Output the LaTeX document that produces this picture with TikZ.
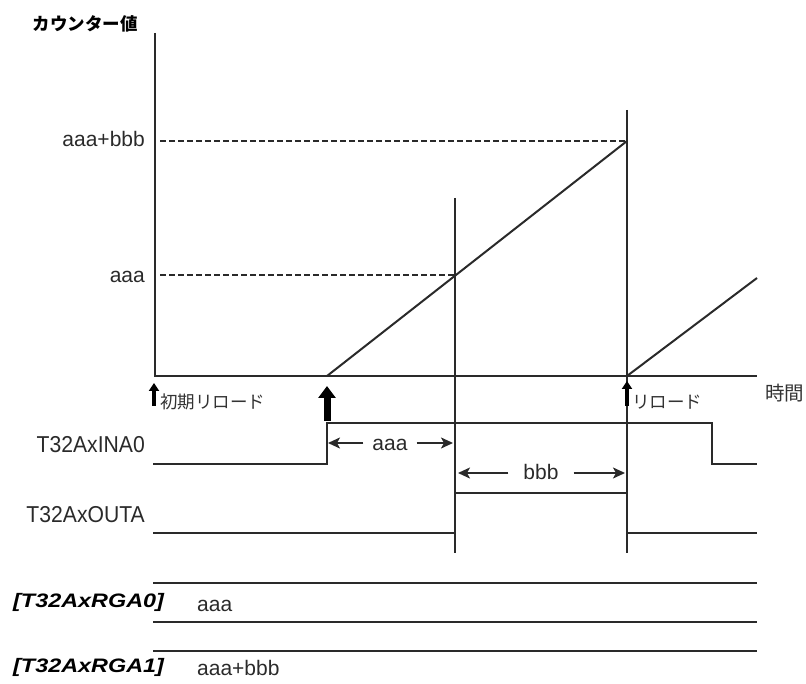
\documentclass[tikz,border=0pt]{standalone}
\usepackage{fontspec}
\setmainfont{Liberation Sans}
\newfontfamily\narrowf[FakeStretch=0.92]{Liberation Sans}
\newfontfamily\widef[FakeStretch=1.2]{Liberation Sans}
\newfontfamily\jpf{Noto Sans CJK JP}
\usetikzlibrary{arrows.meta}
\definecolor{ink}{HTML}{2A2A2A}
\begin{document}
\begin{tikzpicture}[x=1pt,y=-1pt,
  ln/.style={draw=ink,line width=2pt},
  axisline/.style={draw=ink,line width=2.3pt},
  dashline/.style={draw=ink,line width=1.7pt,dash pattern=on 6pt off 3pt},
  lowtxt/.style={font=\fontsize{21}{21}\selectfont,text=ink,inner sep=0pt},
  captxt/.style={font=\narrowf\fontsize{23}{23}\selectfont,text=ink,inner sep=0pt},
  regtxt/.style={font=\widef\bfseries\itshape\fontsize{19.5}{20}\selectfont,text=black,inner sep=0pt},
  jptxt/.style={font=\jpf\fontsize{17.5}{18}\selectfont,text=black!80,inner sep=0pt},
  dimarr/.style={draw=ink,line width=1.8pt,-{Stealth[length=12pt,width=11pt,inset=3pt]}},
  bigarr/.style={draw=black,line width=7pt,-{Triangle[length=12pt,width=17pt]}},
  smallarr/.style={draw=black,line width=3.5pt,-{Triangle[length=8pt,width=10pt]}}]
\useasboundingbox (0,0) rectangle (806,684);

% axes
\coordinate (O) at (155,376);
\coordinate (Ytop) at (155,33);
\coordinate (Xend) at (757,376);
\draw[axisline] (Ytop) -- (O) -- (Xend);

% level labels
\node[lowtxt,anchor=base east] (lab2) at (145,147) {aaa+bbb};
\node[lowtxt,anchor=base east] (lab1) at (145,283) {aaa};
\node[font=\jpf\bfseries\fontsize{17.5}{18}\selectfont,inner sep=0pt] (ylab) at (85,24) {カウンター値};
\node[font=\jpf\fontsize{19.5}{20}\selectfont,text=black!80,inner sep=0pt,anchor=west] (xlab) at (765,393) {時間};

% ramp points
\coordinate (R0) at (327,376);
\coordinate (Rm) at (455,275);
\coordinate (R1) at (627,141);
\coordinate (R2) at (627,376);
\coordinate (R3) at (757,278);
\draw[dashline] (160,141) -- (R1);
\draw[dashline] (160,275) -- (Rm);
\draw[ln] (R0) -- (R1);
\draw[ln] (R2) -- (R3);

% vertical lines
\coordinate (V1t) at (455,198);
\coordinate (V1b) at (455,553);
\coordinate (V2t) at (627,110);
\coordinate (V2b) at (627,553);
\draw[ln] (V1t) -- (V1b);
\draw[ln] (V2t) -- (V2b);

% reload arrows
\coordinate (A1s) at (154,406);
\coordinate (A1e) at (154,383);
\coordinate (A2s) at (327,421);
\coordinate (A2e) at (327,386);
\coordinate (A3s) at (627,406);
\coordinate (A3e) at (627,381);
\draw[smallarr] (A1s) -- (A1e);
\draw[bigarr] (A2s) -- (A2e);
\draw[smallarr] (A3s) -- (A3e);
\node[jptxt,anchor=west] (rl1) at (160,402) {初期リロード};
\node[jptxt,anchor=west] (rl2) at (632,402) {リロード};

% INA0 signal
\node[captxt,anchor=base east] (ina) at (145,453) {T32AxINA0};
\draw[ln] (153,464) -- (327,464) -- (327,423) -- (712,423) -- (712,464) -- (757,464);
\node[lowtxt,anchor=base] (aaaT) at (390,450) {aaa};
\coordinate (aL) at (328,443);
\coordinate (aR) at (453,443);
\draw[dimarr] ([xshift=-9pt]aaaT.west |- aL) -- (aL);
\draw[dimarr] ([xshift=9pt]aaaT.east |- aR) -- (aR);

% OUTA signal
\node[captxt,anchor=base east] (outa) at (145,522) {T32AxOUTA};
\draw[ln] (153,533) -- (455,533);
\draw[ln] (455,493) -- (627,493);
\draw[ln] (627,533) -- (757,533);
\node[lowtxt,anchor=base] (bbbT) at (541,479) {bbb};
\coordinate (bL) at (458,473);
\coordinate (bR) at (625,473);
\draw[dimarr] ([xshift=-15pt]bbbT.west |- bL) -- (bL);
\draw[dimarr] ([xshift=15pt]bbbT.east |- bR) -- (bR);

% registers
\draw[ln] (153,583) -- (757,583);
\draw[ln] (153,622) -- (757,622);
\draw[ln] (153,651) -- (757,651);
\node[regtxt,anchor=base west] (rg0) at (13,607) {[T32AxRGA0]};
\node[lowtxt,anchor=base west] (rg0v) at (197,611) {aaa};
\node[regtxt,anchor=base west] (rg1) at (13,672) {[T32AxRGA1]};
\node[lowtxt,anchor=base west] (rg1v) at (197,675) {aaa+bbb};
\end{tikzpicture}
\end{document}
